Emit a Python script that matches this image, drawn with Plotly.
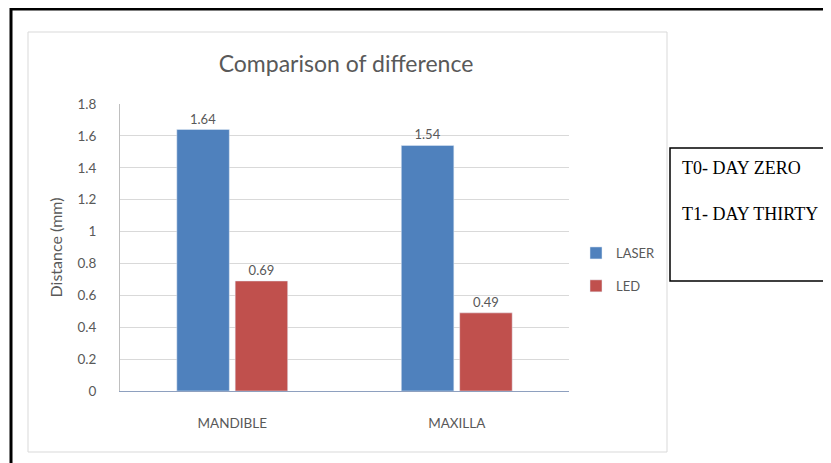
import plotly.graph_objects as go

categories = ["MANDIBLE", "MAXILLA"]
laser = [1.64, 1.54]
led = [0.69, 0.49]
y_ticks = [0, 0.2, 0.4, 0.6, 0.8, 1, 1.2, 1.4, 1.6, 1.8]
note_lines = ["T0- DAY ZERO", "T1- DAY THIRTY"]

W, H = 831, 463
OFF = 8  # page body margin
# plot area in reference (screen) pixels
SL, SR, ST, SB = 120, 569, 104, 391
L, R, T, B = SL - OFF, SR - OFF, ST - OFF, SB - OFF


def px(x):
    return (x - SL) / (SR - SL)


def py(y):
    return (SB - y) / (SB - ST)


gray = "#595959"
font_main = "Lato, Open Sans, sans-serif"

fig = go.Figure()
fig.add_trace(go.Bar(
    x=categories, y=laser, name="LASER", marker_color="#4F81BD",
    text=[f"{v:.2f}" for v in laser], textposition="outside",
    textfont=dict(color=gray, size=13, family=font_main),
    cliponaxis=False, legendgroup="a",
))
fig.add_trace(go.Bar(
    x=categories, y=led, name="LED", marker_color="#C0504D",
    text=[f"{v:.2f}" for v in led], textposition="outside",
    textfont=dict(color=gray, size=13, family=font_main),
    cliponaxis=False, legendgroup="b",
))

shapes = [
    # outer black frame
    dict(type="rect", xref="paper", yref="paper",
         x0=px(11), x1=px(845), y0=py(9), y1=py(480),
         line=dict(color="black", width=3), layer="below"),
    # inner chart frame
    dict(type="rect", xref="paper", yref="paper",
         x0=px(28), x1=px(667), y0=py(32), y1=py(452),
         line=dict(color="#D9D9D9", width=1), layer="below"),
    # note box
    dict(type="rect", xref="paper", yref="paper",
         x0=px(670), x1=px(845), y0=py(148), y1=py(281),
         line=dict(color="black", width=1.5)),
]

annotations = []
for i, t in enumerate(note_lines):
    annotations.append(dict(
        text=t, xref="paper", yref="paper",
        x=px(680), y=py(168 + 46 * i), xanchor="left", yanchor="middle",
        showarrow=False,
        font=dict(family="Liberation Serif, serif", size=18, color="black"),
    ))

fig.update_layout(
    width=W, height=H,
    margin=dict(l=L, r=W - R, t=T, b=H - B),
    paper_bgcolor="white", plot_bgcolor="white",
    title=dict(text="Comparison of difference", xref="container",
               x=(346 - OFF) / W, xanchor="center",
               yref="container", y=1 - (64 - OFF) / H, yanchor="middle",
               font=dict(family=font_main, size=23, color=gray)),
    barmode="group", bargap=0.48, bargroupgap=0.1,
    showlegend=True,
    legend=dict(x=px(576), y=py(238), xanchor="left", yanchor="top",
                font=dict(family=font_main, size=13, color=gray),
                tracegroupgap=13, traceorder="grouped",
                bgcolor="rgba(0,0,0,0)"),
    xaxis=dict(showline=True, linecolor="#8EA0BF", linewidth=1,
               ticks="", tickfont=dict(family=font_main, size=13.5, color=gray),
               ticklabelstandoff=20),
    yaxis=dict(range=[0, 1.8], tickvals=y_ticks,
               ticktext=[f"{v:g}" for v in y_ticks],
               showgrid=True, gridcolor="#D9D9D9", gridwidth=1,
               showline=True, linecolor="#BFBFBF", linewidth=1,
               zeroline=False, ticks="",
               tickfont=dict(family=font_main, size=13.5, color=gray),
               ticklabelstandoff=20,
               title=dict(text="Distance (mm)", standoff=10,
                          font=dict(family=font_main, size=16, color=gray))),
    shapes=shapes, annotations=annotations,
)

fig.write_html("out.html")
